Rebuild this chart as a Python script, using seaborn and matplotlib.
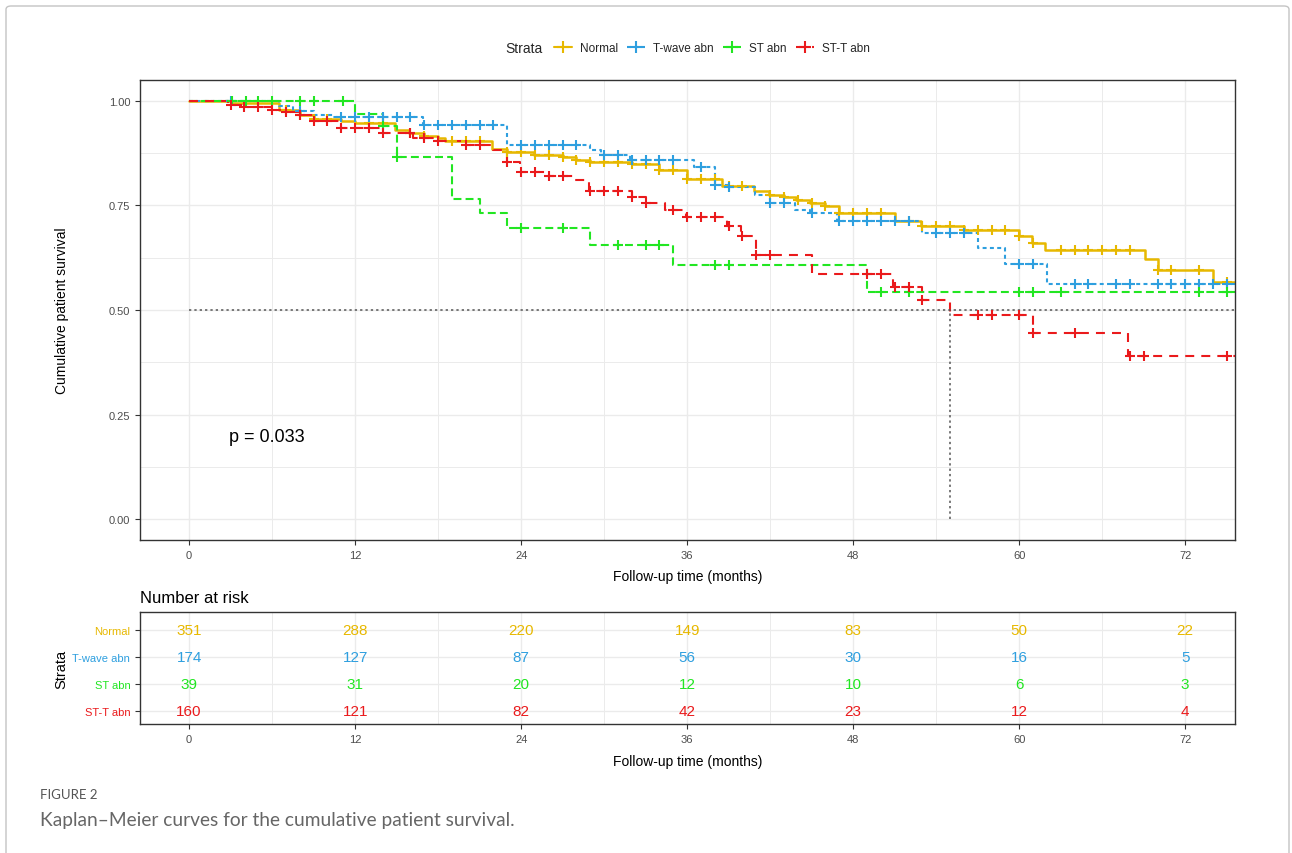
import numpy as np
import pandas as pd
import matplotlib.pyplot as plt
import matplotlib.patches as patches
from matplotlib.lines import Line2D
from matplotlib.ticker import MultipleLocator
import seaborn as sns

# ---------------------------------------------------------------
# data
# ---------------------------------------------------------------
groups = ['Normal', 'T-wave abn', 'ST abn', 'ST-T abn']
colors = ['#E7B800', '#2E9FDF', '#22E622', '#EA1A1C']

# step times (months) and survival after each step
normal_t = [0, 3.0, 6.5, 8.0, 9.0, 11.0, 12.0, 14.9, 15.9, 17.0, 18.0, 18.5, 21.9, 23.0,
            24.9, 27.0, 28.0, 29.0, 32.0, 34.0, 36.0, 38.5, 40.8, 41.9, 43.0, 43.9,
            44.9, 46.0, 47.0, 51.0, 52.9, 56.0, 60.0, 60.9, 61.9, 69.1, 70.0, 74.0]
normal_s = [1.0, 0.994, 0.979, 0.967, 0.956, 0.951, 0.947, 0.931, 0.923, 0.917, 0.911,
            0.905, 0.885, 0.879, 0.871, 0.865, 0.859, 0.853, 0.848, 0.835, 0.813, 0.796,
            0.784, 0.776, 0.770, 0.764, 0.756, 0.749, 0.733, 0.714, 0.702, 0.692, 0.678,
            0.660, 0.644, 0.621, 0.595, 0.567]
normal_cens = [7, 8, 9, 10, 13, 14, 16, 17, 19, 20, 21, 23, 24, 25, 26, 27, 28, 29, 30,
               31, 32, 33, 34, 35, 36, 37, 38, 39, 40, 42, 43, 44, 45, 46, 47, 48, 49, 50,
               52, 53, 54, 55, 56, 57, 58, 59, 60, 61, 63, 64, 65, 66, 67, 68, 70, 71,
               73, 75]

twave_t = [0, 6.5, 7.5, 9.0, 10.4, 16.9, 23.0, 29.0, 29.8, 31.9, 36.5, 38.0, 39.0, 40.9,
           42.0, 43.8, 44.9, 46.8, 53.0, 57.0, 59.0, 62.0]
twave_s = [1.0, 0.988, 0.977, 0.967, 0.961, 0.943, 0.895, 0.883, 0.871, 0.858, 0.843,
           0.800, 0.794, 0.776, 0.757, 0.740, 0.733, 0.714, 0.684, 0.648, 0.609, 0.561]
twave_cens = [3, 8, 11, 12, 13, 14, 15, 16, 17, 18, 19, 20, 21, 22, 24, 25, 26, 27, 28,
              30, 31, 32, 33, 34, 35, 37, 38, 39, 42, 43, 45, 47, 48, 49, 50, 51, 52, 54,
              55, 56, 60, 61, 64, 65, 67, 68, 70, 71, 72, 73, 74, 75]

st_t = [0, 12.0, 14.0, 15.0, 19.0, 21.0, 23.0, 29.0, 35.0, 49.0]
st_s = [1.0, 0.969, 0.940, 0.867, 0.766, 0.732, 0.696, 0.655, 0.607, 0.543]
st_cens = [3.1, 4.1, 5.0, 6.0, 8.0, 9.0, 11.1, 14.0, 15.0, 24.0, 27.0, 31.0, 33.0, 34.0,
           38.0, 39.0, 50.0, 52.0, 60.0, 61.0, 63.0, 73.0, 75.0]

stt_t = [0, 2.8, 4.0, 6.0, 7.0, 8.0, 9.0, 11.0, 14.0, 16.2, 18.0, 20.0, 22.0, 23.0, 23.9,
         26.0, 27.9, 28.9, 32.0, 33.0, 34.4, 35.9, 38.9, 39.9, 41.0, 45.0, 50.9, 53.0,
         55.0, 61.0, 67.9]
stt_s = [1.0, 0.990, 0.985, 0.979, 0.974, 0.967, 0.951, 0.935, 0.923, 0.911, 0.903, 0.895,
         0.883, 0.853, 0.831, 0.821, 0.810, 0.784, 0.770, 0.756, 0.740, 0.722, 0.702,
         0.678, 0.632, 0.586, 0.555, 0.523, 0.489, 0.444, 0.390]
stt_cens = [3, 4, 5, 6, 7, 8, 9, 10, 11, 12, 13, 14, 16, 17, 18, 20, 21, 23, 24, 25, 26,
            27, 29, 30, 31, 32, 33, 35, 36, 37, 38, 39, 40, 41, 42, 49, 50, 51, 52, 53,
            57, 58, 60, 61, 64, 68, 69, 75]

t_end = 75.6
median_time = 55.0
p_label = 'p = 0.033'

# number at risk table
risk_times = [0, 12, 24, 36, 48, 60, 72]
risk_normal = [351, 288, 220, 149, 83, 50, 22]
risk_twave = [174, 127, 87, 56, 30, 16, 5]
risk_st = [39, 31, 20, 12, 10, 6, 3]
risk_stt = [160, 121, 82, 42, 23, 12, 4]

curves = [(normal_t, normal_s, normal_cens), (twave_t, twave_s, twave_cens),
          (st_t, st_s, st_cens), (stt_t, stt_s, stt_cens)]
risks = [risk_normal, risk_twave, risk_st, risk_stt]
styles = ['-', (0, (1.9, 1.6)), (0, (3.8, 2.0)), (0, (4.3, 3.4))]
widths = [1.8, 1.5, 1.5, 1.5]

# ---------------------------------------------------------------
# figure
# ---------------------------------------------------------------
sns.set_style('white')
plt.rcParams['font.family'] = ['Liberation Sans', 'DejaVu Sans']

W, H = 1292, 854
fig = plt.figure(figsize=(W / 100, H / 100), dpi=100)

# outer frame of the figure panel
fig.patches.append(patches.FancyBboxPatch(
    (6 / W, 1 - 870 / H), 1283 / W, 863 / H, boxstyle='round,pad=0,rounding_size=0.004',
    transform=fig.transFigure, fill=False, edgecolor='#C4C4C4', linewidth=1.0))

def px_axes(l, t, r, b):
    return fig.add_axes([l / W, 1 - b / H, (r - l) / W, (b - t) / H])

ax = px_axes(140, 81, 1235, 541)
ax2 = px_axes(140, 613, 1235, 725)

grid_c = '#EBEBEB'
for a in (ax, ax2):
    a.set_xlim(-3.55, t_end)
    a.xaxis.set_major_locator(MultipleLocator(12))
    a.xaxis.set_minor_locator(MultipleLocator(6))
    a.grid(which='major', color=grid_c, linewidth=1.0)
    a.grid(which='minor', axis='x', color=grid_c, linewidth=0.7)
    a.set_axisbelow(True)
    for sp in a.spines.values():
        sp.set_color('#333333')
        sp.set_linewidth(1.0)
    a.tick_params(which='major', length=3.5, width=0.8, color='#333333',
                  labelcolor='#4D4D4D', labelsize=8, direction='out', bottom=True, left=True)
    a.tick_params(which='minor', length=0)

# ---- KM curves ----
ax.set_ylim(-0.05, 1.05)
ax.yaxis.set_major_locator(MultipleLocator(0.25))
ax.yaxis.set_minor_locator(MultipleLocator(0.125))
ax.grid(which='minor', axis='y', color=grid_c, linewidth=0.7)
ax.yaxis.set_major_formatter(plt.FuncFormatter(lambda v, p: f'{v:.2f}'))

for (t, s, cens), c, ls, lw, g in zip(curves, colors, styles, widths, groups):
    step = pd.DataFrame({'time': t + [t_end], 'surv': s + [s[-1]]})
    sns.lineplot(data=step, x='time', y='surv', ax=ax, color=c, linestyle=ls,
                 linewidth=lw, drawstyle='steps-post', estimator=None, sort=False)
    idx = np.searchsorted(np.array(t), np.array(cens), side='right') - 1
    cdf = pd.DataFrame({'time': cens, 'surv': np.array(s)[idx]})
    sns.scatterplot(data=cdf, x='time', y='surv', ax=ax, color=c, marker='+',
                    s=62, linewidth=1.5, zorder=5)

# median survival line
ax.plot([0, t_end], [0.5, 0.5], color='#555555', linestyle=(0, (1.5, 2)), linewidth=1.1)
ax.plot([median_time, median_time], [0, 0.5], color='#555555',
        linestyle=(0, (1.5, 2)), linewidth=1.1)

ax.text(5.6, 0.198, p_label, fontsize=13, ha='center', va='center', color='black')
ax.set_xlabel('Follow-up time (months)', fontsize=10, color='black')
ax.set_ylabel('Cumulative patient survival', fontsize=10, color='black')
ax.xaxis.set_label_coords(0.5, -0.063)
ax.yaxis.set_label_coords(-0.065, 0.5)

# legend on top
handles = [Line2D([0], [0], color=c, linestyle=ls, linewidth=1.5, marker='+',
                  markersize=8, markeredgewidth=1.5)
           for c, ls in zip(colors, styles)]
fig.text(505 / W, 1 - 49 / H, 'Strata', fontsize=10, va='center', ha='left')
fig.legend(handles, groups, ncol=4, loc='center', bbox_to_anchor=(712 / W, 1 - 49 / H),
           frameon=False, fontsize=8.5, handlelength=1.5, columnspacing=0.8,
           handletextpad=0.7)

# ---- number at risk table ----
ax2.set_ylim(0.52, 4.67)
ax2.set_yticks([4, 3, 2, 1])
ax2.set_yticklabels(groups)
for lab, c in zip(ax2.get_yticklabels(), colors):
    lab.set_color(c)
for i, (vals, c) in enumerate(zip(risks, colors)):
    for t, n in zip(risk_times, vals):
        ax2.text(t, 4 - i, str(n), color=c, fontsize=11, ha='center', va='center')
ax2.set_title('Number at risk', loc='left', fontsize=12, pad=7, color='black')
ax2.set_xlabel('Follow-up time (months)', fontsize=10, color='black')
ax2.set_ylabel('Strata', fontsize=10.5, color='black')
ax2.xaxis.set_label_coords(0.5, -0.27)
ax2.yaxis.set_label_coords(-0.065, 0.5)

# caption
fig.text(40 / W, 1 - 795 / H, 'FIGURE 2', fontsize=9.5, color='#555555', va='center',
         family=['Lato', 'DejaVu Sans'])
fig.text(40 / W, 1 - 821 / H, 'Kaplan\u2013Meier curves for the cumulative patient survival.',
         fontsize=13.8, color='#666666', va='center', family=['Lato', 'DejaVu Sans'])

fig.savefig('out.png', dpi=100)
